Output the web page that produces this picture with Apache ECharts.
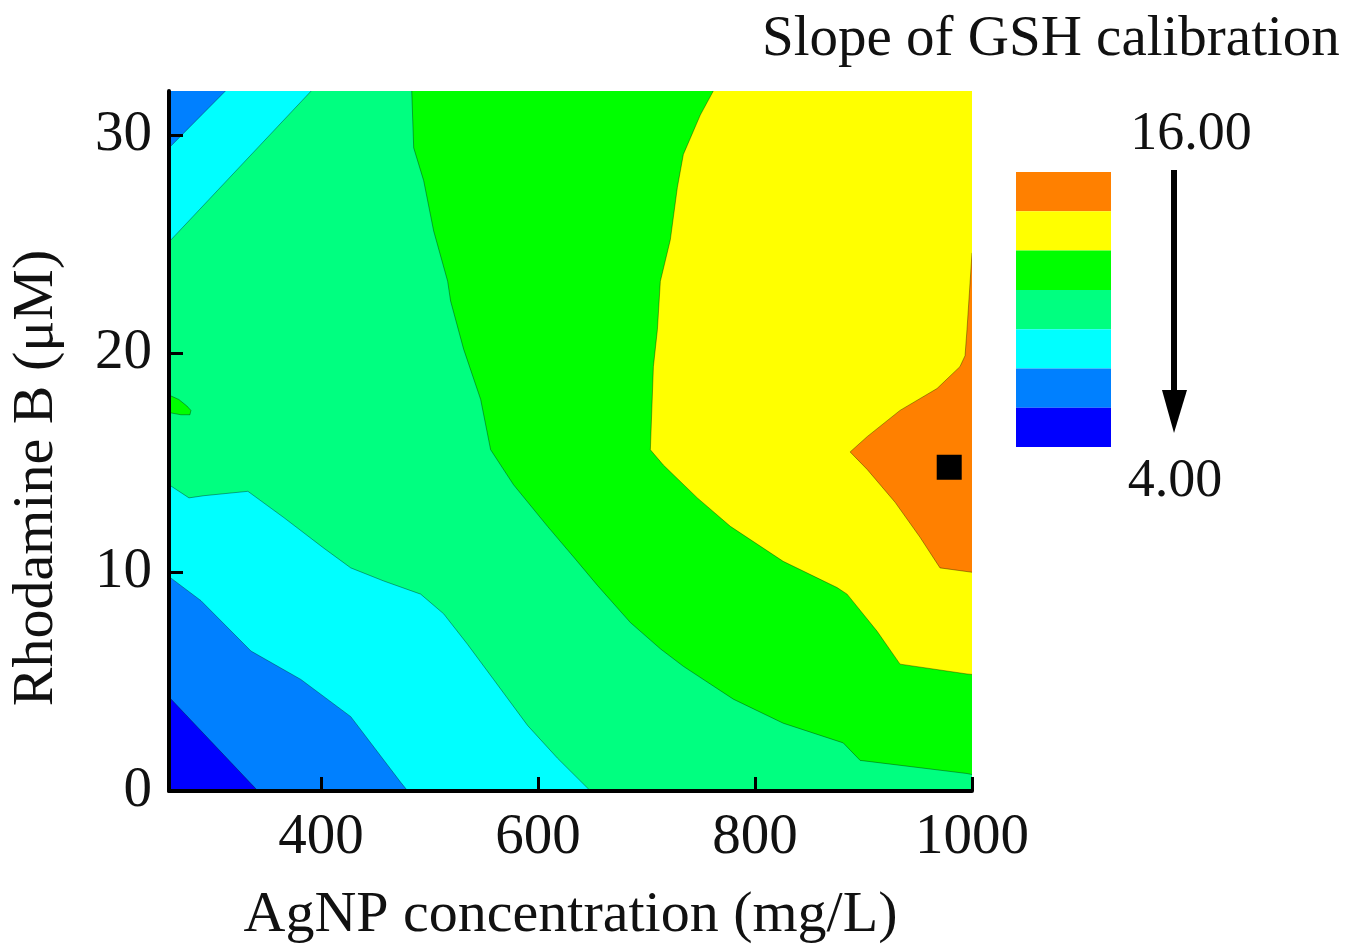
<!DOCTYPE html>
<html>
<head>
<meta charset="utf-8">
<title>Slope of GSH calibration</title>
<script src="https://cdn.jsdelivr.net/npm/echarts@6/dist/echarts.min.js"></script>
<style>
  html, body { margin: 0; background: #fff; }
  #chart { width: 1351px; height: 950px; }
</style>
</head>
<body>
<div id="chart"></div>
<script>
// axis ranges and ticks
const xRange = [260, 1000];
const yRange = [0, 32];
const xTicks = [400, 600, 800, 1000];
const yTicks = [0, 10, 20, 30];

// colour scale 4.00 .. 16.00, 7 bands (Origin rainbow)
const scaleRange = [4, 16];
const bandCount = 7;
const bandColors = ['#0000ff', '#0080ff', '#00ffff', '#00ff80', '#00ff00', '#ffff00', '#ff8000'];

// contour boundaries, [AgNP mg/L, Rhodamine B uM]
const darkBlueLow = [[260, 4.3], [342, 0]];
const blueLow = [[260, 9.8], [289.5, 8.7], [335.5, 6.4], [381.5, 5.1], [427.5, 3.4], [473.5, 0.4], [480, 0]];
const cyanLow = [[260, 14.0], [278.4, 13.4], [292.2, 13.5], [332.7, 13.7], [365.8, 12.5], [402.7, 11.1],
  [427.5, 10.2], [457.9, 9.6], [491.9, 9.0], [513.1, 8.1], [535.2, 6.7], [559.1, 5.1], [590.4, 3.0],
  [618, 1.5], [648.4, 0]];
const cyanTop = [[391, 32], [260, 25.1]];
const blueTop = [[312, 32], [260, 29.4]];
const greenEdge = [[483.7, 32], [485.5, 29.4], [494.7, 27.9], [503.9, 25.6], [516.8, 23.3], [519.5, 22.4],
  [531.5, 20.2], [547.2, 17.9], [556.4, 15.6], [577.5, 14.0], [608.8, 12.1], [632.8, 10.7], [654.8, 9.4],
  [685.2, 7.7], [712.8, 6.5], [734, 5.7], [780, 4.2], [826, 3.1], [881.3, 2.2], [896.9, 1.4],
  [995.4, 0.8], [1000, 0.75]];
const yellowEdge = [[761.6, 32], [749.6, 30.9], [734, 29.1], [728.5, 27.6], [722, 25.2], [712.8, 23.3],
  [710.1, 21.1], [706.4, 19.4], [703.6, 15.6], [715.6, 14.9], [746.9, 13.4], [777.3, 12.1], [826, 10.5],
  [875.7, 9.3], [884.9, 9.0], [912.6, 7.3], [933.7, 5.8], [995.4, 5.35], [1000, 5.33]];
const orangeEdge = [[1000, 24.6], [995.4, 21.1], [993.6, 19.9], [988.9, 19.4], [967.8, 18.4], [933.7, 17.4],
  [903.4, 16.2], [887.7, 15.5], [903.4, 14.7], [929.1, 13.2], [952.1, 11.6], [970.5, 10.2], [1000, 10.0]];
const greenSpot = [[260, 18.1], [269, 17.9], [276.5, 17.6], [280.2, 17.4], [279.3, 17.2], [271, 17.2], [260, 17.3]];

// optimum point
const optimum = [[979, 14.8]];

// filled regions, painted from back to front; value = slope band they belong to
const regions = [
  { value: 10.0, edge: [], close: [[260, 0], [1000, 0], [1000, 32], [260, 32]] },
  { value: 8.3, edge: cyanLow, close: [[260, 0]] },
  { value: 6.5, edge: blueLow, close: [[260, 0]] },
  { value: 4.8, edge: darkBlueLow, close: [[260, 0]] },
  { value: 8.3, edge: cyanTop, close: [[260, 32]] },
  { value: 6.5, edge: blueTop, close: [[260, 32]] },
  { value: 11.7, edge: greenEdge, close: [[1000, 32]] },
  { value: 13.4, edge: yellowEdge, close: [[1000, 32]] },
  { value: 15.1, edge: orangeEdge, close: [] },
  { value: 11.7, edge: greenSpot, close: [] }
];

const serif = 'Liberation Serif';
const chart = echarts.init(document.getElementById('chart'));

function renderRegion (params, api) {
  const r = regions[api.value(3)];
  const edge = r.edge.map(p => api.coord(p));
  const pts = edge.concat(r.close.map(p => api.coord(p)));
  const children = [{ type: 'polygon', shape: { points: pts }, style: { fill: api.visual('color') } }];
  if (edge.length > 1) {
    children.push({
      type: 'polyline',
      shape: { points: edge },
      style: { stroke: 'rgba(0,0,0,0.35)', lineWidth: 1, fill: null }
    });
  }
  return { type: 'group', children: children };
}

chart.setOption({
  animation: false,
  grid: { left: 168, top: 91, width: 804, height: 704 },
  xAxis: {
    type: 'value',
    min: xRange[0],
    max: xRange[1],
    z: 5,
    axisLine: { lineStyle: { color: '#000', width: 4 } },
    axisTick: { inside: true, length: 14, customValues: xTicks, lineStyle: { color: '#000', width: 3 } },
    axisLabel: {
      customValues: xTicks,
      formatter: v => String(v),
      fontFamily: serif,
      fontSize: 57,
      color: '#111',
      margin: 19
    },
    splitLine: { show: false },
    name: 'AgNP concentration (mg/L)',
    nameLocation: 'middle',
    nameGap: 96,
    nameTextStyle: { fontFamily: serif, fontSize: 58, color: '#111' }
  },
  yAxis: {
    type: 'value',
    min: yRange[0],
    max: yRange[1],
    z: 5,
    axisLine: { lineStyle: { color: '#000', width: 4 } },
    axisTick: { inside: true, length: 14, customValues: yTicks, lineStyle: { color: '#000', width: 3 } },
    axisLabel: { customValues: yTicks, fontFamily: serif, fontSize: 57, color: '#111', margin: 17 },
    splitLine: { show: false },
    name: 'Rhodamine B (μM)',
    nameLocation: 'middle',
    nameGap: 103,
    nameTextStyle: { fontFamily: serif, fontSize: 58, color: '#111', padding: [0, 74, 0, 0] }
  },
  visualMap: {
    type: 'piecewise',
    seriesIndex: 0,
    dimension: 2,
    min: scaleRange[0],
    max: scaleRange[1],
    splitNumber: bandCount,
    inRange: { color: bandColors },
    orient: 'vertical',
    left: 1016,
    top: 172,
    padding: 0,
    itemWidth: 95,
    itemHeight: 39.3,
    itemGap: 0,
    itemSymbol: 'rect',
    showLabel: false,
    selectedMode: false,
    hoverLink: false
  },
  graphic: [
    { type: 'text', left: 762, top: 12, style: { text: 'Slope of GSH calibration', font: '57px "Liberation Serif"', fill: '#111' } },
    { type: 'text', x: 1191, y: 135, style: { text: '16.00', font: '54px "Liberation Serif"', fill: '#111', align: 'center', verticalAlign: 'middle' } },
    { type: 'text', x: 1175, y: 482, style: { text: '4.00', font: '54px "Liberation Serif"', fill: '#111', align: 'center', verticalAlign: 'middle' } },
    { type: 'line', shape: { x1: 1174, y1: 170, x2: 1174, y2: 400 }, style: { stroke: '#000', lineWidth: 6 } },
    { type: 'polygon', shape: { points: [[1162, 390], [1187, 390], [1174, 433]] }, style: { fill: '#000' } }
  ],
  series: [
    {
      type: 'custom',
      coordinateSystem: 'cartesian2d',
      clip: true,
      encode: { x: 0, y: 1 },
      renderItem: renderRegion,
      data: regions.map((r, i) => {
        const p = r.edge[0] || r.close[0];
        return [p[0], p[1], r.value, i];
      })
    },
    {
      type: 'scatter',
      symbol: 'rect',
      symbolSize: 25,
      itemStyle: { color: '#000', opacity: 1 },
      data: optimum,
      z: 4
    }
  ]
});
</script>
</body>
</html>
